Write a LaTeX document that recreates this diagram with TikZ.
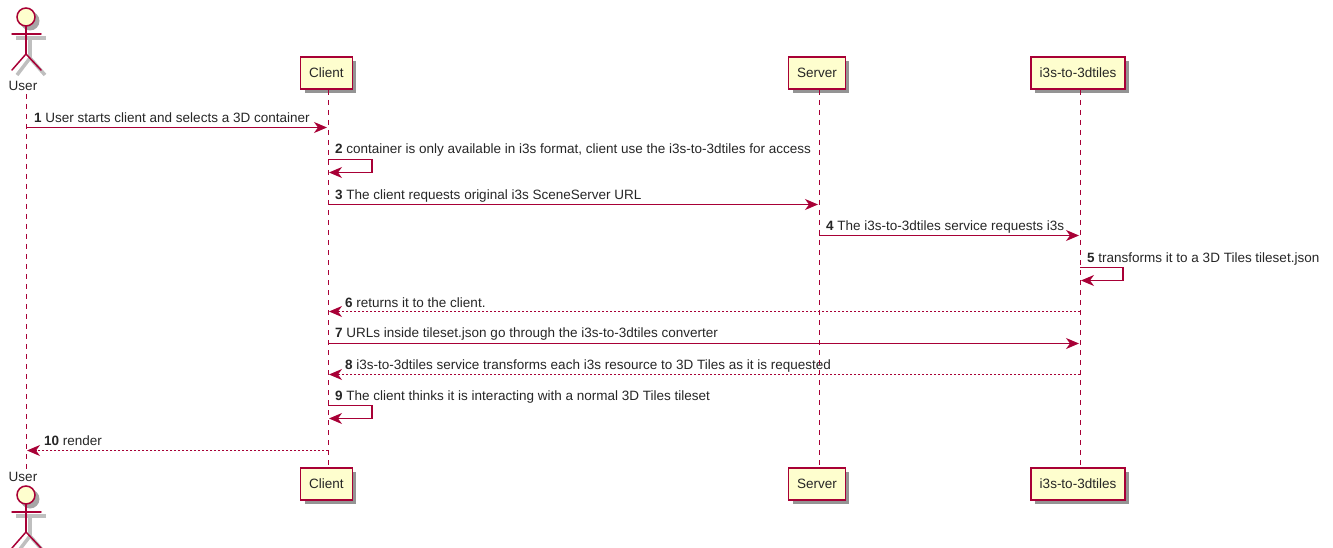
\documentclass[tikz,border=0pt]{standalone}
\usepackage{fontspec}
\setmainfont{Liberation Sans}
\usetikzlibrary{arrows.meta,shadows}
\definecolor{umlred}{HTML}{A80036}
\definecolor{umlfill}{HTML}{FEFECE}
\tikzset{
    part/.style={draw=umlred, fill=umlfill, line width=1.5pt, minimum height=32pt, inner xsep=8.5pt, inner ysep=0pt, font=\fontsize{13.5}{16}\selectfont, text=black!85, drop shadow={shadow xshift=4pt, shadow yshift=-4pt, fill=black!60, opacity=.7}},
    life/.style={draw=umlred, line width=1pt, dash pattern=on 5pt off 5pt},
    msg/.style={draw=umlred, line width=1.1pt, -{Stealth[length=13pt,width=11pt,inset=4pt]}},
    ret/.style={msg, dash pattern=on 2pt off 2pt},
    lab/.style={anchor=base west, inner sep=0pt, font=\fontsize{13.5}{16}\selectfont, text=black!85},
    actlab/.style={inner sep=0pt, font=\fontsize{13.5}{16}\selectfont, text=black!85},
    limb/.style={draw=umlred, line width=1.5pt, line cap=round},
    limbshadow/.style={draw=black!25, line width=3.5pt}
}
\newcommand{\actor}[3]{%
    % ombra
    \fill[black!35] (#1+4,#2+4) circle (9.5pt);
    \draw[limbshadow] (#1-10,#2+21) -- (#1+20,#2+21);
    \draw[limbshadow] (#1+4,#2+21) -- (#1+4,#2+41);
    \draw[limbshadow] (#1-9,#2+58) -- (#1+4,#2+41) -- (#1+19,#2+58);
    % omino
    \draw[limb, fill=umlfill] (#1,#2) circle (9pt);
    \draw[limb] (#1,#2+9) -- (#1,#2+37) coordinate (#3);
    \draw[limb] (#1-14,#2+17) -- (#1+15,#2+17);
    \draw[limb] (#1-14,#2+53) -- (#3) -- (#1+15,#2+53);
}
\begin{document}
\begin{tikzpicture}[x=1pt, y=-1pt]
    \useasboundingbox (0,0) rectangle (1333,548);

    % Partecipanti
    \actor{26}{17}{userHip}
    \node[actlab] (userTop) at (23,86) {User};
    \node[part] (clientTop) at (326.5,73) {Client};
    \node[part] (serverTop) at (817,73) {Server};
    \node[part] (convTop) at (1078,73) {i3s-to-3dtiles};

    \node[part] (clientBot) at (326.5,484) {Client};
    \node[part] (serverBot) at (817,484) {Server};
    \node[part] (convBot) at (1078,484) {i3s-to-3dtiles};
    \node[actlab] (userBot) at (23,477) {User};
    \actor{26}{495}{userHipBot}

    % Linee di vita
    \draw[life] (26,94) coordinate (userA) -- (26,469) coordinate (userB);
    \draw[life] (328,90) coordinate (clientA) -- (328,466) coordinate (clientB);
    \draw[life] (819,90) coordinate (serverA) -- (819,466) coordinate (serverB);
    \draw[life] (1080,90) coordinate (convA) -- (1080,466) coordinate (convB);

    % Punti dei messaggi
    \coordinate (u1) at (26,127.5);   \coordinate (c1) at (327,127.5);
    \coordinate (c2) at (328,159.5);  \coordinate (c2r) at (372,159.5);
    \coordinate (c2s) at (372,172.5); \coordinate (c2e) at (329,172.5);
    \coordinate (c3) at (328,204.5);  \coordinate (s3) at (818,204.5);
    \coordinate (s4) at (819,235.5);  \coordinate (t4) at (1079,235.5);
    \coordinate (t5) at (1080,267.5); \coordinate (t5r) at (1123,267.5);
    \coordinate (t5s) at (1123,280.5);\coordinate (t5e) at (1081,280.5);
    \coordinate (t6) at (1080,311.5); \coordinate (c6) at (329,311.5);
    \coordinate (c7) at (328,343.5);  \coordinate (t7) at (1079,343.5);
    \coordinate (t8) at (1080,374.5); \coordinate (c8) at (329,374.5);
    \coordinate (c9) at (328,405.5);  \coordinate (c9r) at (372,405.5);
    \coordinate (c9s) at (372,418.5); \coordinate (c9e) at (329,418.5);
    \coordinate (c10) at (328,450.5); \coordinate (u10) at (27,450.5);

    % Messaggi
    \draw[msg] (u1) -- (c1);
    \draw[msg] (c2) -- (c2r) -- (c2s) -- (c2e);
    \draw[msg] (c3) -- (s3);
    \draw[msg] (s4) -- (t4);
    \draw[msg] (t5) -- (t5r) -- (t5s) -- (t5e);
    \draw[ret] (t6) -- (c6);
    \draw[msg] (c7) -- (t7);
    \draw[ret] (t8) -- (c8);
    \draw[msg] (c9) -- (c9r) -- (c9s) -- (c9e);
    \draw[ret] (c10) -- (u10);

    % Etichette
    \node[lab] (lab1) at (34,123) {\textbf{1} User starts client and selects a 3D container};
    \node[lab] (lab2) at (335,154) {\textbf{2} container is only available in i3s format, client use the i3s-to-3dtiles for access};
    \node[lab] (lab3) at (335,200) {\textbf{3} The client requests original i3s SceneServer URL};
    \node[lab] (lab4) at (826,230) {\textbf{4} The i3s-to-3dtiles service requests i3s};
    \node[lab] (lab5) at (1087,262.5) {\textbf{5} transforms it to a 3D Tiles tileset.json};
    \node[lab] (lab6) at (345,307) {\textbf{6} returns it to the client.};
    \node[lab] (lab7) at (335,337) {\textbf{7} URLs inside tileset.json go through the i3s-to-3dtiles converter};
    \node[lab] (lab8) at (345,369) {\textbf{8} i3s-to-3dtiles service transforms each i3s resource to 3D Tiles as it is requested};
    \node[lab] (lab9) at (335,400) {\textbf{9} The client thinks it is interacting with a normal 3D Tiles tileset};
    \node[lab] (lab10) at (44,445) {\textbf{10} render};
\end{tikzpicture}
\end{document}
